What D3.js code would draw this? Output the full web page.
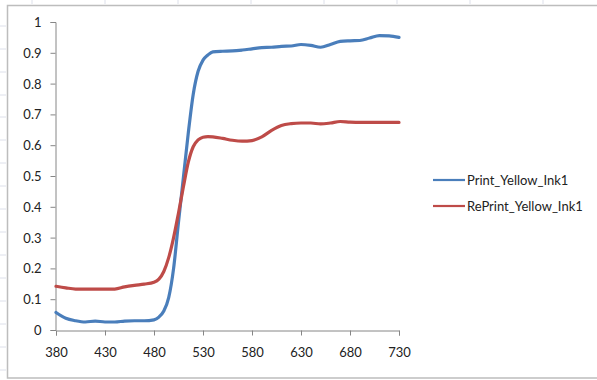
<!DOCTYPE html>
<html>
<head>
<meta charset="utf-8">
<script src="https://cdn.jsdelivr.net/npm/d3@7"></script>
<style>
  body { margin: 0; background: #fff; }
  svg { display: block; }
  text { font-family: Lato, "Open Sans", sans-serif; font-size: 13px; fill: #222; }
  .ax path, .ax line { stroke: #868686; }
</style>
</head>
<body>
<div id="chart"></div>
<script>
// wavelength (nm)
const wavelengths = [380,390,400,410,420,430,440,450,460,470,480,485,490,495,500,505,510,515,520,525,530,535,540,550,560,570,580,590,600,610,620,630,640,650,660,670,680,690,700,710,720,730];
const printYellow = [0.057,0.038,0.030,0.026,0.029,0.026,0.026,0.029,0.030,0.030,0.033,0.042,0.062,0.105,0.200,0.350,0.495,0.640,0.765,0.840,0.876,0.893,0.903,0.905,0.906,0.909,0.913,0.917,0.918,0.921,0.922,0.927,0.924,0.918,0.927,0.937,0.939,0.940,0.948,0.956,0.955,0.950];
const reprintYellow = [0.142,0.137,0.133,0.133,0.133,0.133,0.133,0.140,0.145,0.149,0.155,0.165,0.190,0.235,0.300,0.380,0.465,0.545,0.595,0.617,0.626,0.628,0.627,0.622,0.616,0.613,0.615,0.627,0.648,0.664,0.670,0.672,0.672,0.669,0.672,0.677,0.675,0.674,0.674,0.674,0.674,0.674];
const xTicks = [380,430,480,530,580,630,680,730];
const yTicks = [0,0.1,0.2,0.3,0.4,0.5,0.6,0.7,0.8,0.9,1];
const seriesNames = ["Print_Yellow_Ink1", "RePrint_Yellow_Ink1"];
const seriesColors = ["#4a7ebb", "#be4b48"];

const W = 597, H = 380;
const svg = d3.select("#chart").append("svg").attr("width", W).attr("height", H);

// faint sheet grid marks outside the chart frame
[32,105,178,251,324,397,470,543].forEach(function(x){
  svg.append("line").attr("x1",x).attr("x2",x).attr("y1",0).attr("y2",4).attr("stroke","#dde0ea");
});
[26,49,72,95,117,140,163,186,209,232,255,278,301,324,347,370].forEach(function(y){
  svg.append("line").attr("x1",0).attr("x2",6).attr("y1",y).attr("y2",y).attr("stroke","#dde0ea");
});
// chart frame
svg.append("rect").attr("x",7.5).attr("y",5.5).attr("width",W).attr("height",372.5)
  .attr("fill","#fff").attr("stroke","#bdbdbd").attr("stroke-width",1.5);

const x = d3.scaleLinear().domain([380,730]).range([56,399]);
const y = d3.scaleLinear().domain([0,1]).range([330,22]);

const yAxis = d3.axisLeft(y).tickValues(yTicks).tickSize(5).tickPadding(9)
  .tickFormat(function(d){ return d3.format("")(+d.toFixed(1)); });
svg.append("g").attr("class","ax").attr("transform","translate(55.5,0)").call(yAxis)
  .call(g => g.selectAll("text").attr("dy","0.35em"));

const xAxis = d3.axisBottom(x).tickValues(xTicks).tickSize(5).tickPadding(12).tickFormat(d3.format("d"));
svg.append("g").attr("class","ax").attr("transform","translate(0,330.5)").call(xAxis);

svg.selectAll(".ax text").style("font-size","13px").style("font-family","Lato, sans-serif").attr("fill","#222");
svg.selectAll(".ax .domain").attr("stroke","#868686");

const line = d3.line().curve(d3.curveMonotoneX)
  .x(function(d,i){ return x(wavelengths[i]); })
  .y(function(d){ return y(d); });

[printYellow, reprintYellow].forEach(function(s, k){
  svg.append("path").datum(s).attr("d", line)
    .attr("fill","none").attr("stroke",seriesColors[k]).attr("stroke-width",3.2)
    .attr("stroke-linejoin","round").attr("stroke-linecap","round");
});

// legend
const lg = svg.append("g").attr("transform","translate(433,180)");
seriesNames.forEach(function(n,k){
  const g = lg.append("g").attr("transform","translate(0," + (k*26) + ")");
  g.append("line").attr("x1",0).attr("x2",32).attr("y1",0).attr("y2",0)
    .attr("stroke",seriesColors[k]).attr("stroke-width",2.2);
  g.append("text").attr("x",34).attr("y",0).attr("dy","0.35em").text(n);
});
</script>
</body>
</html>
